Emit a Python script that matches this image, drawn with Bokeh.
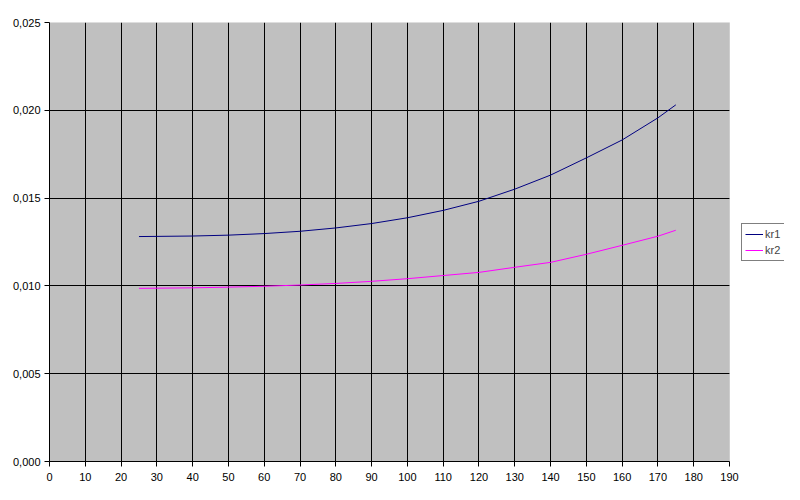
from bokeh.plotting import figure
from bokeh.models import (ColumnDataSource, Legend, LegendItem, FixedTicker, Range1d,
                          BoxAnnotation)
from bokeh.embed import file_html
from bokeh.resources import INLINE

x_vals = [25, 30, 40, 50, 60, 70, 80, 90, 100, 110, 120, 130, 140, 150, 160, 170, 175]
kr1 = [0.01281, 0.01282, 0.01284, 0.01289, 0.01298, 0.01311, 0.01330, 0.01355, 0.01388,
       0.01430, 0.01482, 0.01551, 0.01631, 0.01729, 0.01831, 0.01957, 0.02031]
kr2 = [0.00986, 0.00987, 0.00989, 0.00993, 0.00998, 0.01005, 0.01014, 0.01026, 0.01041,
       0.01059, 0.01077, 0.01106, 0.01134, 0.01180, 0.01231, 0.01283, 0.01317]
series_names = ["kr1", "kr2"]
series_colors = ["#000080", "#ff00ff"]
x_ticks = list(range(0, 191, 10))
y_ticks = [0.0, 0.005, 0.010, 0.015, 0.020, 0.025]
y_labels = ["0,000", "0,005", "0,010", "0,015", "0,020", "0,025"]
X_MIN, X_MAX = 0, 190
Y_MIN, Y_MAX = 0.0, 0.025

src = ColumnDataSource(dict(x=x_vals, kr1=kr1, kr2=kr2))

W, H = 784, 484
LEFT, TOP, BOTTOM = 49, 22, 23
PLOT_W = 680  # pixel width of the 0..190 plot area
frame_w = W - LEFT
x_end = X_MAX * frame_w / PLOT_W

p = figure(width=W, height=H, output_backend="svg", toolbar_location=None,
           x_range=Range1d(X_MIN, x_end), y_range=Range1d(Y_MIN, Y_MAX),
           min_border_left=LEFT, min_border_right=0, min_border_top=TOP,
           min_border_bottom=BOTTOM)
p.background_fill_color = "white"
p.border_fill_color = "white"
p.outline_line_color = None

# gray plot area
p.add_layout(BoxAnnotation(left=X_MIN, right=X_MAX, bottom=Y_MIN, top=Y_MAX,
                           fill_color="#c0c0c0", fill_alpha=1, line_color=None,
                           level="image"))

font = "Liberation Sans"
for ax in (p.xaxis[0], p.yaxis[0]):
    ax.axis_line_color = "black"
    ax.major_tick_line_color = "black"
    ax.major_tick_out = 5
    ax.major_tick_in = 0
    ax.minor_tick_line_color = None
    ax.major_label_text_font = font
    ax.major_label_text_font_size = "11px"
    ax.major_label_text_color = "black"
    ax.level = "overlay"

p.xaxis[0].ticker = FixedTicker(ticks=x_ticks)
p.xaxis[0].bounds = (X_MIN, X_MAX)
p.yaxis[0].ticker = FixedTicker(ticks=y_ticks)
p.yaxis[0].major_label_overrides = {t: l for t, l in zip(y_ticks, y_labels)}
p.xaxis[0].major_label_standoff = 6
p.yaxis[0].major_label_standoff = 4

p.xgrid.grid_line_color = "black"
p.ygrid.grid_line_color = "black"
p.xgrid.ticker = FixedTicker(ticks=x_ticks[1:-1])
p.ygrid.ticker = FixedTicker(ticks=y_ticks[1:-1])

# white area right of the plot area (hides grid lines there)
p.add_layout(BoxAnnotation(left=X_MAX, fill_color="white", fill_alpha=1,
                           line_color=None, level="glyph"))

renderers = []
for name, color in zip(series_names, series_colors):
    renderers.append(p.line("x", name, source=src, line_color=color, line_width=1))

# plot-area border
p.add_layout(BoxAnnotation(left=X_MIN, right=X_MAX, bottom=Y_MIN, top=Y_MAX,
                           fill_alpha=0, line_color="#808080", line_width=1,
                           level="annotation"))

legend = Legend(items=[LegendItem(label=n, renderers=[r])
                       for n, r in zip(series_names, renderers)],
                location=(692, 200))
legend.border_line_color = "black"
legend.border_line_width = 1
legend.background_fill_color = "white"
legend.background_fill_alpha = 1
legend.label_text_font = font
legend.label_text_font_size = "11px"
legend.glyph_width = 18
legend.glyph_height = 14
legend.label_height = 14
legend.label_standoff = 2
legend.spacing = 2
legend.padding = 3
legend.margin = 0
p.add_layout(legend)

open("out.html", "w").write(file_html(p, INLINE))
